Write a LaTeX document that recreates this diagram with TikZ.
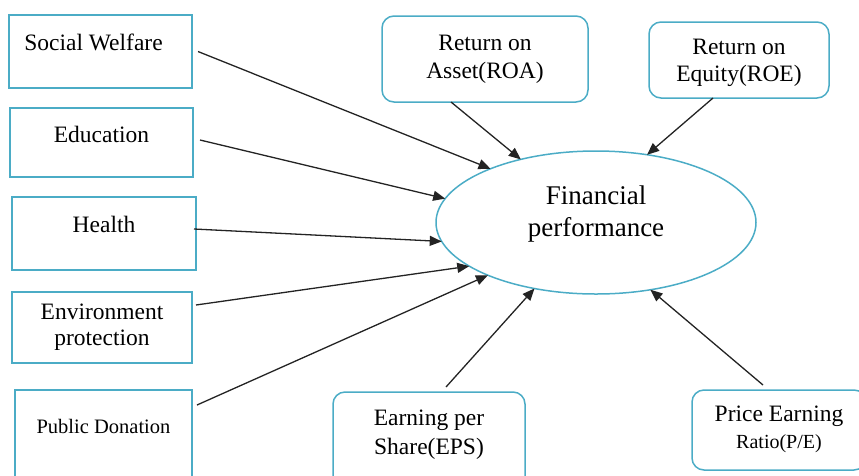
\documentclass[tikz,border=0pt]{standalone}
\usepackage{fontspec}
\setmainfont{Liberation Serif}
\usetikzlibrary{shapes.geometric,arrows.meta}
\definecolor{boxblue}{RGB}{75,172,198}
\definecolor{arrowgray}{RGB}{35,35,35}
\tikzset{
  sqbox/.style={draw=boxblue, line width=1.5pt, rectangle, inner xsep=0pt, inner ysep=0pt,
    outer sep=0pt, anchor=base, font=\fontsize{23.5}{28}\selectfont},
  rbox/.style={sqbox, rounded corners=12pt},
  conn/.style={draw=arrowgray, line width=1.3pt, -{Triangle[length=12pt,width=10pt]}},
}
\begin{document}
\begin{tikzpicture}[x=1pt,y=-1pt]
\useasboundingbox (0,0) rectangle (859,475);
% left boxes
\node[sqbox, minimum width=183pt, text height=35pt, text depth=38pt] (sw) at (100.5,50)
  {\begin{tabular}[t]{@{}c@{}}Social Welfare\hspace*{14pt}\end{tabular}};
\node[sqbox, minimum width=183pt, text height=34pt, text depth=35pt] (edu) at (101.5,142)
  {\begin{tabular}[t]{@{}c@{}}Education\end{tabular}};
\node[sqbox, minimum width=184pt, text height=35pt, text depth=38pt] (hl) at (104,232)
  {\begin{tabular}[t]{@{}c@{}}Health\end{tabular}};
\node[sqbox, minimum width=180pt, text height=27pt, text depth=44pt,
  font=\fontsize{23.5}{26.5}\selectfont] (env) at (102,319)
  {\begin{tabular}[t]{@{}c@{}}Environment\\protection\end{tabular}};
\node[sqbox, minimum width=177pt, text height=43pt, text depth=52pt,
  font=\fontsize{20.5}{26}\selectfont] (pd) at (103.5,433)
  {\begin{tabular}[t]{@{}c@{}}Public Donation\end{tabular}};
% right rounded boxes
\node[rbox, minimum width=206pt, text height=34pt, text depth=52pt] (roa) at (485,50)
  {\begin{tabular}[t]{@{}c@{}}Return on\\Asset(ROA)\end{tabular}};
\node[rbox, minimum width=180pt, text height=32pt, text depth=44pt,
  font=\fontsize{23.5}{27.5}\selectfont] (roe) at (739,54)
  {\begin{tabular}[t]{@{}c@{}}Return on\\Equity(ROE)\end{tabular}};
\node[rbox, minimum width=192pt, text height=33pt, text depth=65pt,
  font=\fontsize{23.5}{29}\selectfont] (eps) at (429,425)
  {\begin{tabular}[t]{@{}c@{}}Earning per\\Share(EPS)\end{tabular}};
\node[rbox, minimum width=174pt, text height=31pt, text depth=49pt,
  font=\fontsize{23.5}{27.6}\selectfont] (pe) at (779,421)
  {\begin{tabular}[t]{@{}c@{}}Price Earning\\{\fontsize{20}{27.6}\selectfont Ratio(P/E)}\end{tabular}};
% central ellipse
\node[ellipse, draw=boxblue, line width=1.5pt, minimum width=320pt, minimum height=143pt,
  inner sep=0pt, outer sep=0pt, text height=20pt, text depth=57pt,
  font=\fontsize{27}{32.5}\selectfont] (fp) at (596,222.5)
  {\begin{tabular}[t]{@{}c@{}}Financial\\performance\end{tabular}};
% connectors
\draw[conn] ([xshift=6pt]sw.east) -- (fp.153);
\draw[conn] ([xshift=7pt,yshift=2.5pt]edu.east) -- (fp.171);
\draw[conn] ([xshift=-2pt,yshift=4.5pt]hl.east) -- (fp.187);
\draw[conn] ([xshift=4pt,yshift=22.5pt]env.east) -- (fp.199.5);
\draw[conn] ([xshift=5pt,yshift=32.5pt]pd.east) -- (fp.206.4);
\draw[conn] ([xshift=-34pt]roa.south) -- (fp.140.8);
\draw[conn] ([xshift=-26pt]roe.south) -- (fp.53.8);
\draw[conn] ([xshift=17pt,yshift=5pt]eps.north) -- (fp.227.4);
\draw[conn] ([xshift=-16pt,yshift=5pt]pe.north) -- (fp.309.7);
\end{tikzpicture}
\end{document}
